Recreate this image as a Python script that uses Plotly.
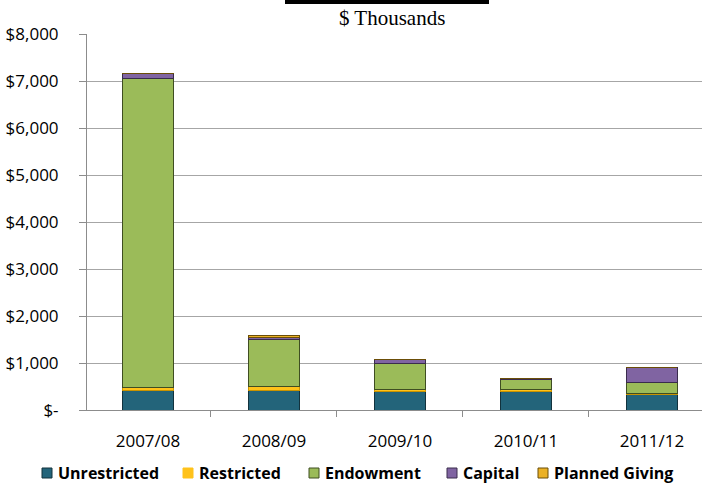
import plotly.graph_objects as go

# Fiscal years and giving by fund type, $ thousands
years = ["2007/08", "2008/09", "2009/10", "2010/11", "2011/12"]
unrestricted = [425, 410, 385, 400, 325]
restricted = [45, 85, 45, 35, 35]
endowment = [6590, 1010, 570, 205, 220]
capital = [110, 45, 85, 40, 330]
planned_giving = [0, 40, 0, 0, 0]

y_ticks = [0, 1000, 2000, 3000, 4000, 5000, 6000, 7000, 8000]
y_tick_labels = ["$-", "$1,000", "$2,000", "$3,000", "$4,000",
                 "$5,000", "$6,000", "$7,000", "$8,000"]

series = [
    ("Unrestricted", unrestricted, "#23647A", "#12323D"),
    ("Restricted", restricted, "#FFC21A", "#C99300"),
    ("Endowment", endowment, "#9BBB59", "#3F4E22"),
    ("Capital", capital, "#8064A2", "#3A2C4C"),
    ("Planned Giving", planned_giving, "#EBB125", "#6B4E08"),
]

# Plot-area geometry in pixels, used to place the key below the axis
PLOT_L, PLOT_R, PLOT_T, PLOT_B = 87, 702, 34, 410
def px_x(px):
    return (px - PLOT_L) / (PLOT_R - PLOT_L)
def px_y(py):
    return (PLOT_B - py) / (PLOT_B - PLOT_T)

# Left edge of each key swatch
key_left = [42, 183, 309, 447, 538]
key_y = 473

fig = go.Figure()
for name, vals, fill, edge in series:
    fig.add_trace(go.Bar(
        name=name, x=years, y=vals, showlegend=False,
        marker=dict(color=fill, line=dict(color=edge, width=1)),
    ))

shapes = [dict(
    type="rect", xref="paper", yref="paper",
    x0=px_x(285), x1=px_x(489), y0=px_y(4), y1=px_y(-6),
    fillcolor="#000000", line=dict(width=0),
)]
annotations = [dict(
    text="$ Thousands", xref="paper", yref="paper",
    x=px_x(392), y=px_y(18), yanchor="middle", xanchor="center",
    showarrow=False,
    font=dict(family="Liberation Serif", size=21, color="#000000"),
)]
for (name, _, fill, edge), left in zip(series, key_left):
    shapes.append(dict(
        type="rect", xref="paper", yref="paper",
        x0=px_x(left), x1=px_x(left + 10),
        y0=px_y(key_y + 5), y1=px_y(key_y - 5),
        fillcolor=fill,
        line=dict(color=fill if name == "Restricted" else edge, width=1),
    ))
    annotations.append(dict(
        text=f"<b>{name}</b>", xref="paper", yref="paper",
        x=px_x(left + 14), y=px_y(key_y), xanchor="left", yanchor="middle",
        showarrow=False,
        font=dict(family="Open Sans", size=16, color="#000000"),
    ))

fig.update_layout(
    width=702, height=487,
    barmode="stack", bargap=0.595,
    plot_bgcolor="white", paper_bgcolor="white",
    margin=dict(l=PLOT_L, r=0, t=PLOT_T, b=487 - PLOT_B),
    font=dict(family="Open Sans", size=14, color="#000000"),
    showlegend=False,
    shapes=shapes,
    annotations=annotations,
)

fig.update_xaxes(
    type="category", range=[-0.484, 4.397],
    showline=True, linecolor="#8C8C8C", linewidth=1,
    ticks="outside", tickson="boundaries", ticklen=6, tickcolor="#8C8C8C",
    ticklabelstandoff=16,
    tickfont=dict(family="Open Sans", size=17),
    showgrid=False,
)
fig.update_yaxes(
    range=[0, 8000], tickvals=y_ticks, ticktext=y_tick_labels,
    showline=True, linecolor="#8C8C8C", linewidth=1,
    ticks="outside", ticklen=7, tickcolor="#8C8C8C",
    ticklabelstandoff=17,
    tickfont=dict(family="Open Sans", size=17),
    showgrid=True, gridcolor="#A6A6A6", gridwidth=1,
    zeroline=False,
)

fig.write_html("out.html")
